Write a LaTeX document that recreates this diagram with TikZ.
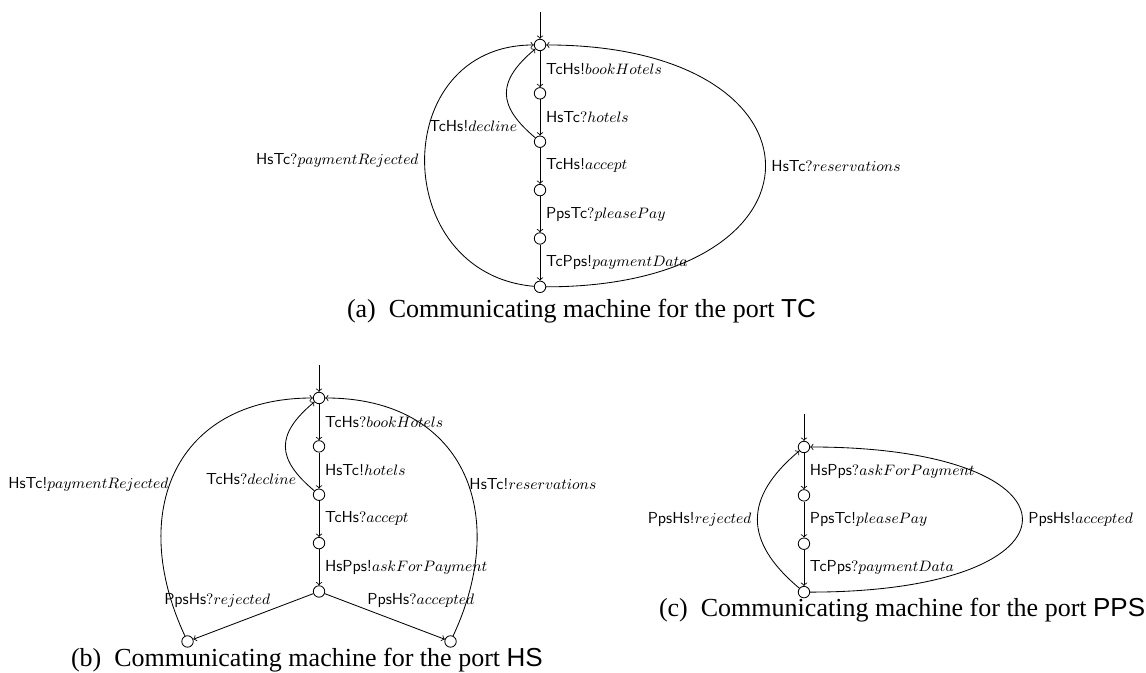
\documentclass[tikz,border=0pt]{standalone}
\usepackage{fontspec}
\newfontfamily\capserif{Liberation Serif}
\newfontfamily\capsans{Liberation Sans}
\usetikzlibrary{positioning}
\tikzset{%
  >=to,
  % Specifications for style of nodes:
        state/.style = {circle, draw, minimum size=2.4mm, inner sep=0pt},
      caption/.style = {anchor=base west,
                        font=\capserif\fontsize{15.5}{18}\selectfont},
}

\begin{document}
\begin{tikzpicture}[node distance=1.013cm, line width=0.5pt,
    every node/.style={font=\sffamily\fontsize{9.5}{11}\selectfont}]
  \useasboundingbox (0,0) rectangle (24,-14.094);
  % (a) machine for the port TC
  \node (tc0)            [state] at (11.309,-0.942) {};
  \node (tc1)      [state, below of=tc0]      {};
  \node (tc2)      [state, below of=tc1]      {};
  \node (tc3)      [state, below of=tc2]      {};
  \node (tc4)      [state, below of=tc3]      {};
  \node (tc5)      [state, below of=tc4]      {};
  \coordinate[node distance=0.7cm, above of=tc0] (tcin);
  \draw[->]       (tcin) -- (tc0);
  \draw[->]       (tc0) -- node[right] {TcHs!$bookHotels$} (tc1);
  \draw[->]       (tc1) -- node[right] {HsTc$?hotels$} (tc2);
  \draw[->]       (tc2) -- node[right] {TcHs!$accept$} (tc3);
  \draw[->]       (tc3) -- node[right] {PpsTc$?pleasePay$} (tc4);
  \draw[->]       (tc4) -- node[right] {TcPps!$paymentData$} (tc5);
  \draw[->]       (tc2) to[out=140,in=220,looseness=1.45]
                  node[left,pos=0.12] {TcHs!$decline$} (tc0);
  \draw[->]       (tc5) to[out=175,in=180,looseness=1.55]
                  node[left] {HsTc$?paymentRejected$} (tc0);
  \draw[->]       (tc5) to[out=0,in=0,looseness=3.1]
                  node[right] {HsTc$?reservations$} (tc0);
  \node (capa) [caption] at (7.141,-6.639)
        {(a)\enskip Communicating machine for the port {\capsans TC}};

  % (b) machine for the port HS
  \node (hs0)            [state] at (6.681,-8.335) {};
  \node (hs1)      [state, below of=hs0]      {};
  \node (hs2)      [state, below of=hs1]      {};
  \node (hs3)      [state, below of=hs2]      {};
  \node (hs4)      [state, below of=hs3]      {};
  \node (hsrej)    [state, node distance=1.047cm, below of=hs4, xshift=-2.754cm] {};
  \node (hsacc)    [state, node distance=1.047cm, below of=hs4, xshift=2.754cm]  {};
  \coordinate[node distance=0.7cm, above of=hs0] (hsin);
  \draw[->]       (hsin) -- (hs0);
  \draw[->]       (hs0) -- node[right] {TcHs$?bookHotels$} (hs1);
  \draw[->]       (hs1) -- node[right] {HsTc!$hotels$} (hs2);
  \draw[->]       (hs2) -- node[right] {TcHs$?accept$} (hs3);
  \draw[->]       (hs3) -- node[right] {HsPps!$askForPayment$} (hs4);
  \draw[->]       (hs4) -- node[above=3.5mm,pos=0.8] {PpsHs$?rejected$} (hsrej);
  \draw[->]       (hs4) -- node[above=3.5mm,pos=0.8] {PpsHs$?accepted$} (hsacc);
  \draw[->]       (hs2) to[out=140,in=220,looseness=1.45]
                  node[left,pos=0.12] {TcHs$?decline$} (hs0);
  \draw[->]       (hsrej) to[out=115,in=180,looseness=1.3]
                  node[left,pos=0.45,inner sep=0.5pt] {HsTc!$paymentRejected$} (hs0);
  \draw[->]       (hsacc) to[out=65,in=0,looseness=1.3]
                  node[right,pos=0.45,inner sep=0.5pt] {HsTc!$reservations$} (hs0);
  \node (capb) [caption] at (1.361,-13.968)
        {(b)\enskip Communicating machine for the port {\capsans HS}};

  % (c) machine for the port PPS
  \node (pps0)           [state] at (16.837,-9.361) {};
  \node (pps1)     [state, below of=pps0]     {};
  \node (pps2)     [state, below of=pps1]     {};
  \node (pps3)     [state, below of=pps2]     {};
  \coordinate[node distance=0.7cm, above of=pps0] (ppsin);
  \draw[->]       (ppsin) -- (pps0);
  \draw[->]       (pps0) -- node[right] {HsPps$?askForPayment$} (pps1);
  \draw[->]       (pps1) -- node[right] {PpsTc!$pleasePay$} (pps2);
  \draw[->]       (pps2) -- node[right] {TcPps$?paymentData$} (pps3);
  \draw[->]       (pps3) to[out=140,in=220,looseness=1.36]
                  node[left] {PpsHs!$rejected$} (pps0);
  \draw[->]       (pps3) to[out=0,in=0,looseness=5]
                  node[right] {PpsHs!$accepted$} (pps0);
  \node (capc) [caption] at (13.675,-12.921)
        {(c)\enskip Communicating machine for the port {\capsans PPS}};
\end{tikzpicture}
\end{document}
